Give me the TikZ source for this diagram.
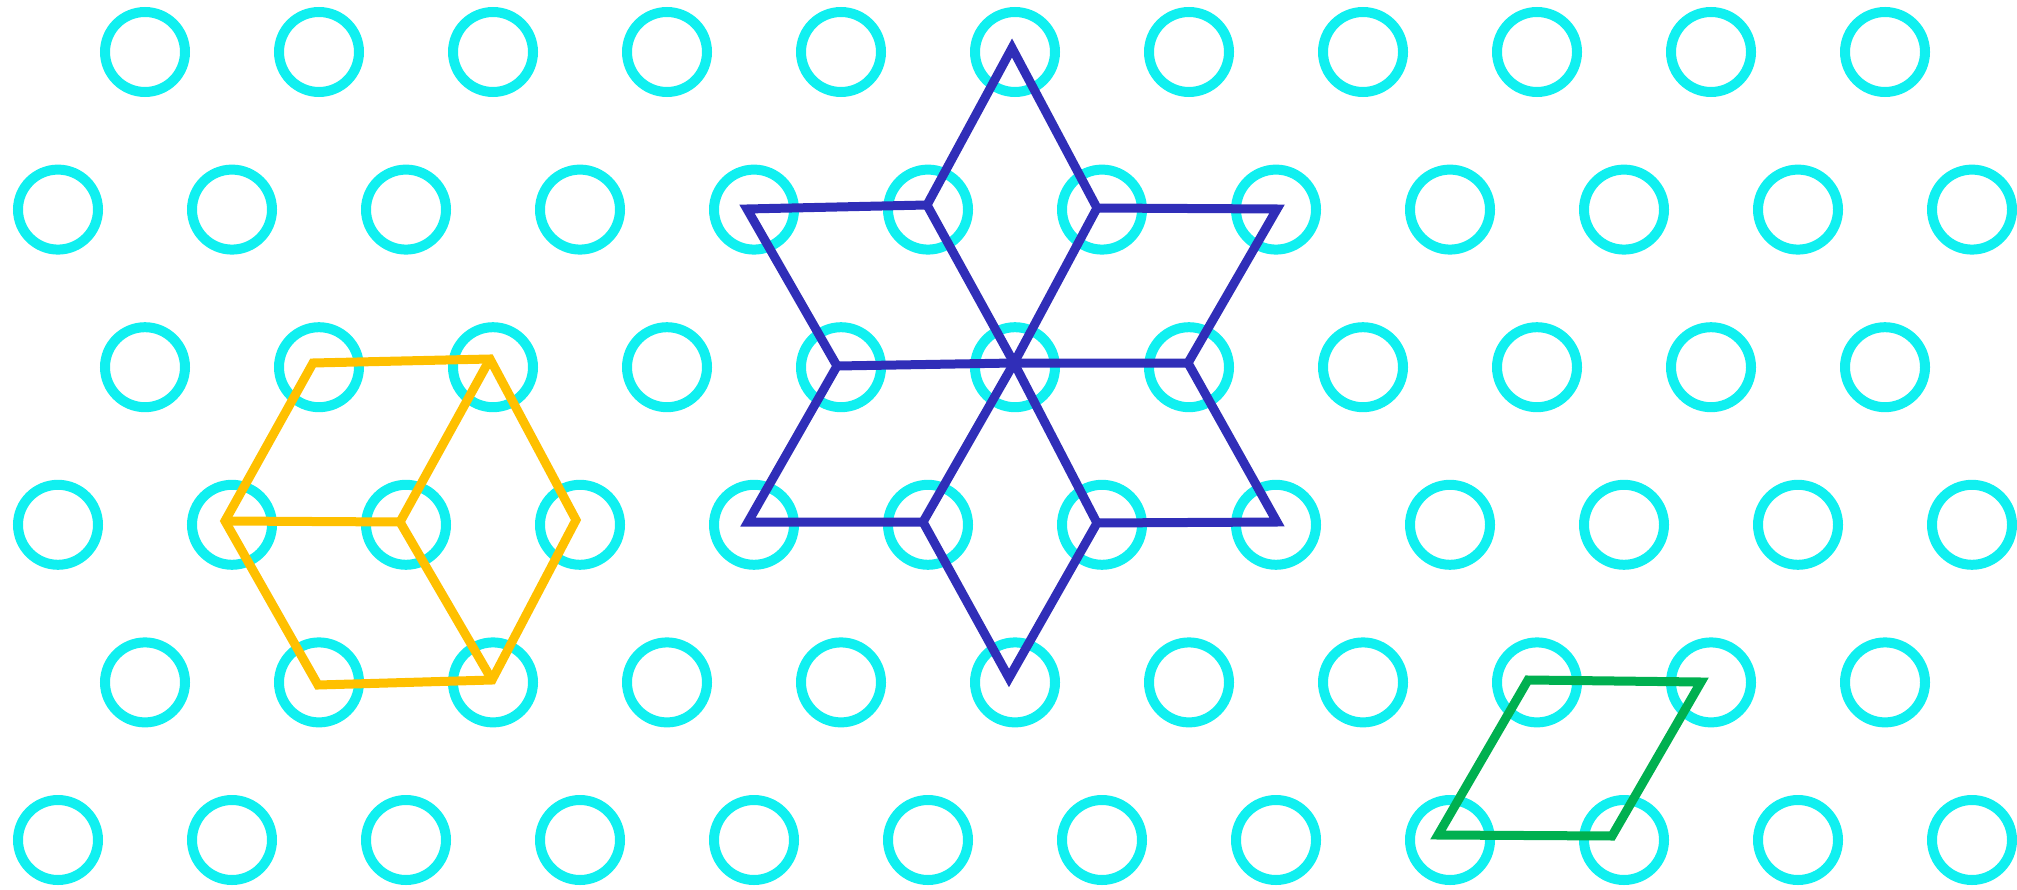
\documentclass[tikz,border=0pt]{standalone}
\definecolor{ringcyan}{RGB}{16,240,240}
\definecolor{hexyellow}{RGB}{255,192,0}
\definecolor{starblue}{RGB}{48,46,184}
\definecolor{rhgreen}{RGB}{0,176,80}
\begin{document}
\begin{tikzpicture}[x=1pt, y=-1pt,
  ring/.style={circle, draw=ringcyan, line width=10pt, inner sep=0pt, minimum size=80pt},
  yl/.style={hexyellow, line width=9pt},
  bl/.style={starblue, line width=9pt},
  gr/.style={rhgreen, line width=9pt}]
\useasboundingbox (0,0) rectangle (2017,890);
% lattice of rings
\foreach \r in {0,2,4}
  \foreach \i in {0,...,10}
    \node[ring] (c\r-\i) at ({145+174*\i},{52+157.6*\r}) {};
\foreach \r in {1,3,5}
  \foreach \i in {0,...,11}
    \node[ring] (c\r-\i) at ({58+174*\i},{52+157.6*\r}) {};
% hexagon (cube)
\coordinate (y1) at (313,363);
\coordinate (y2) at (490,359);
\coordinate (y3) at (576,520);
\coordinate (y4) at (492,680);
\coordinate (y5) at (318,685);
\coordinate (y6) at (225,521);
\coordinate (yc) at (400,522);
\draw[yl] (y1)--(y2)--(y3)--(y4)--(y5)--(y6)--cycle;
\draw[yl] (y6)--(yc)--(y2);
\draw[yl] (yc)--(y4);
% star of six rhombi
\coordinate (bt) at (1012,48);
\coordinate (bul) at (927,205);
\coordinate (bful) at (747,209);
\coordinate (bml) at (837,366);
\coordinate (bfll) at (748,522);
\coordinate (bll) at (923,522);
\coordinate (bb) at (1009,678);
\coordinate (blr) at (1097,523);
\coordinate (bflr) at (1277,522);
\coordinate (bmr) at (1188,363);
\coordinate (bfur) at (1277,209);
\coordinate (bur) at (1097,208);
\coordinate (bc) at (1014,363);
\draw[bl] (bt)--(bur)--(bfur)--(bmr)--(bflr)--(blr)--(bb)--(bll)--(bfll)--(bml)--(bful)--(bul)--cycle;
\draw[bl] (bul)--(bc)--(blr);
\draw[bl] (bur)--(bc)--(bll);
\draw[bl] (bml)--(bc)--(bmr);
% single rhombus
\coordinate (g1) at (1528,680);
\coordinate (g2) at (1701,682);
\coordinate (g3) at (1612,836);
\coordinate (g4) at (1438,835);
\draw[gr] (g1)--(g2)--(g3)--(g4)--cycle;
\end{tikzpicture}
\end{document}
